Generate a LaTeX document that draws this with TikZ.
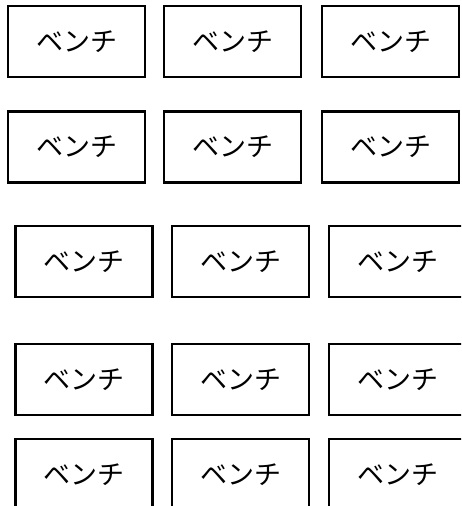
\documentclass[tikz,border=0pt]{standalone}
\usepackage{fontspec}
\newfontfamily\jp{Noto Sans CJK JP}
\usepackage{tikz}

\tikzset{bank/.style={draw, line width=2.4pt, minimum width=137pt, minimum height=71pt, inner sep=0pt, font=\jp\fontsize{27}{27}\selectfont}}

\begin{document}
\begin{tikzpicture}[x=1pt, y=-1pt]
    \useasboundingbox (0,0) rectangle (461,506);
    \clip (0,0) rectangle (461,506);
    % oberste Reihe:
    \node[bank] (bank1a) at (76.5,41.5) {ベンチ}; % erste Bank
    \node[bank] (bank1b) at (232.5,41.5) {ベンチ}; % zweite Bank
    \node[bank] (bank1c) at (390.5,41.5) {ベンチ}; % dritte Bank
    % zweite Reihe:
    \node[bank] (bank2a) at (76.5,147) {ベンチ};
    \node[bank] (bank2b) at (232.5,147) {ベンチ};
    \node[bank] (bank2c) at (390.5,147) {ベンチ};
    % dritte Reihe (nach rechts verschoben):
    \node[bank] (bank3a) at (84,261.5) {ベンチ};
    \node[bank] (bank3b) at (240.5,261.5) {ベンチ};
    \node[bank] (bank3c) at (397.5,261.5) {ベンチ};
    % vierte Reihe:
    \node[bank] (bank4a) at (84,379.5) {ベンチ};
    \node[bank] (bank4b) at (240.5,379.5) {ベンチ};
    \node[bank] (bank4c) at (397.5,379.5) {ベンチ};
    % unterste Reihe (unten abgeschnitten):
    \node[bank] (bank5a) at (84,474.5) {ベンチ};
    \node[bank] (bank5b) at (240.5,474.5) {ベンチ};
    \node[bank] (bank5c) at (397.5,474.5) {ベンチ};
\end{tikzpicture}
\end{document}
